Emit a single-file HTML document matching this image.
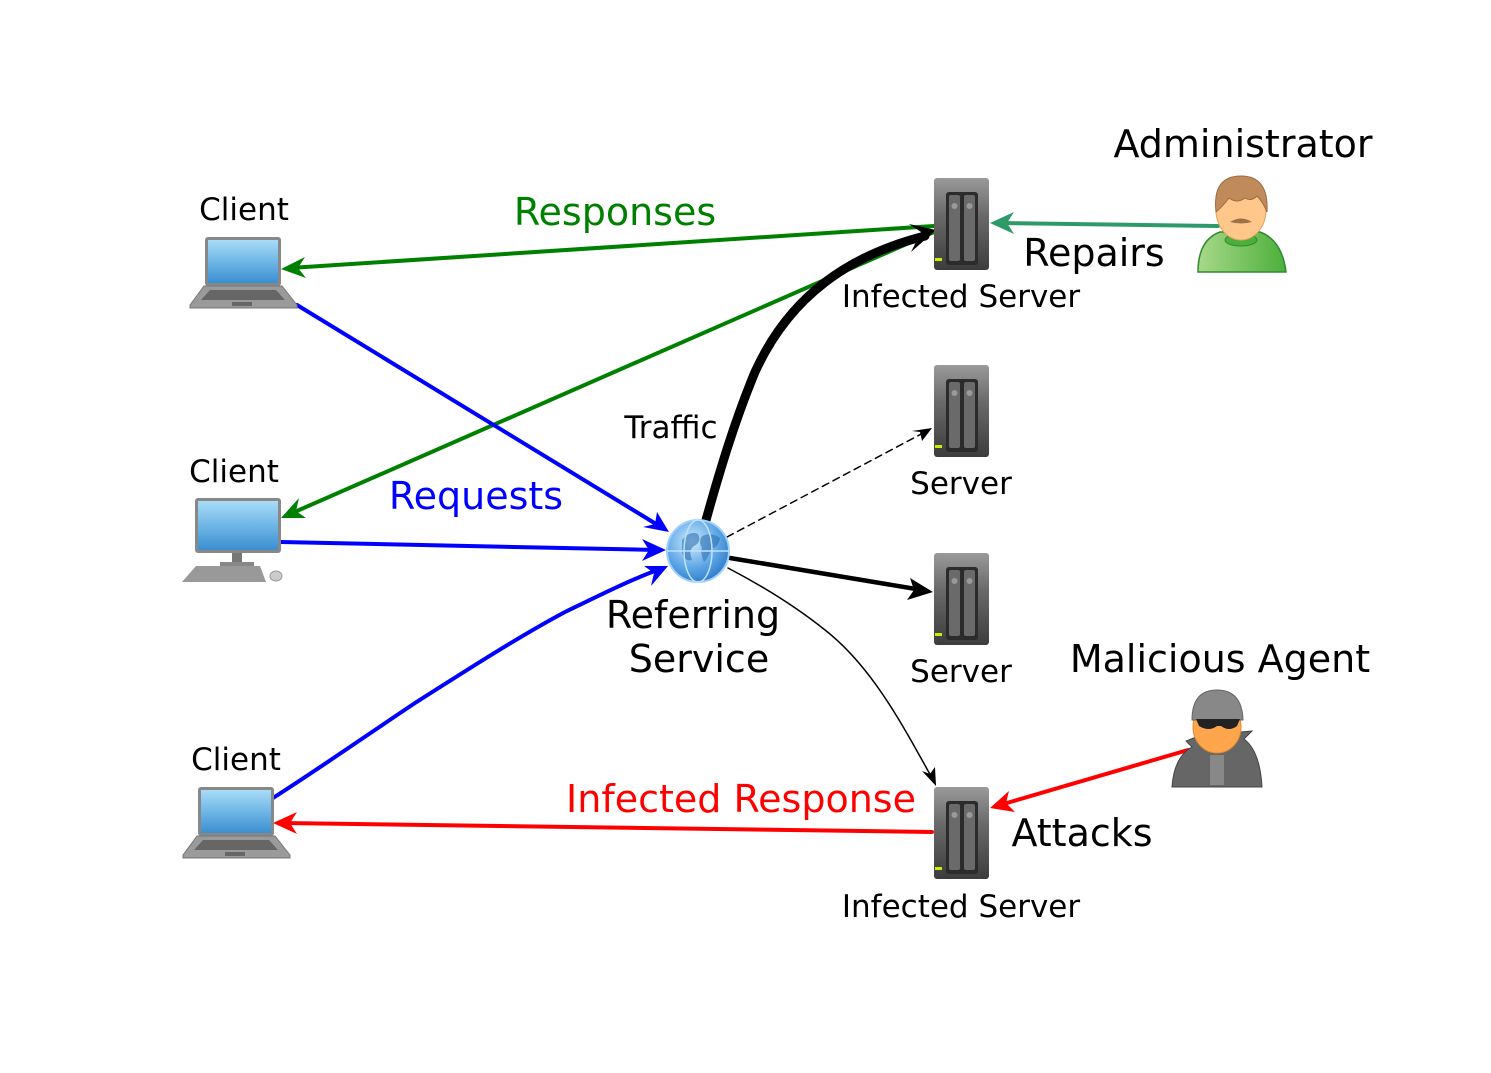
<!DOCTYPE html>
<html><head><meta charset="utf-8"><style>
html,body{margin:0;padding:0;background:#fff}
svg{display:block}
text{font-family:"DejaVu Sans","Liberation Sans",sans-serif}
</style></head><body>
<svg width="1491" height="1073" viewBox="0 0 1491 1073" xmlns="http://www.w3.org/2000/svg">
<defs>
<linearGradient id="scr" x1="0" y1="0" x2="0" y2="1"><stop offset="0" stop-color="#a9dcf7"/><stop offset="0.5" stop-color="#6fb6e6"/><stop offset="1" stop-color="#3a8fd0"/></linearGradient>
<linearGradient id="srv" x1="0" y1="0" x2="0" y2="1"><stop offset="0" stop-color="#9a9a9a"/><stop offset="0.4" stop-color="#6a6a6a"/><stop offset="1" stop-color="#3c3c3c"/></linearGradient>
<linearGradient id="gr" x1="0" y1="0" x2="1" y2="0"><stop offset="0" stop-color="#a8d88a"/><stop offset="1" stop-color="#4caf3a"/></linearGradient>
<radialGradient id="glb" cx="0.4" cy="0.35" r="0.7"><stop offset="0" stop-color="#cfeaff"/><stop offset="0.6" stop-color="#5fa8e6"/><stop offset="1" stop-color="#2c78c8"/></radialGradient>
<g id="server">
<rect x="0" y="0" width="55" height="92" rx="3" fill="url(#srv)"/>
<rect x="12" y="14" width="32" height="73" rx="3" fill="#2b2b2b"/>
<rect x="15" y="17" width="11" height="66" rx="2" fill="#6a6a6a"/>
<rect x="30" y="17" width="11" height="66" rx="2" fill="#6a6a6a"/>
<circle cx="20.5" cy="28" r="3" fill="#999"/><circle cx="35.5" cy="28" r="3" fill="#999"/>
<rect x="1" y="80" width="7" height="3" fill="#c8f000"/>
</g>
<g id="laptop">
<rect x="15" y="0" width="76" height="49" rx="3" fill="#888"/>
<rect x="18" y="3" width="70" height="43" fill="url(#scr)"/>
<path d="M14 49 H92 L107 68 V71 H0 V68 Z" fill="#9a9a9a" stroke="#777"/>
<path d="M20 53 H86 L95 63 H11 Z" fill="#666"/>
<rect x="42" y="65" width="20" height="4" fill="#666"/>
</g>
</defs>

<g fill="none" stroke-linecap="round">
<line x1="934" y1="226" x2="290" y2="268" stroke="#008000" stroke-width="4"/>
<line x1="934" y1="232" x2="290" y2="514" stroke="#008000" stroke-width="4"/>
<line x1="1218" y1="226" x2="1000" y2="223" stroke="#2e9a6a" stroke-width="4"/>
<line x1="297" y1="305" x2="661" y2="527" stroke="#0000ff" stroke-width="4"/>
<line x1="281" y1="542" x2="657" y2="550" stroke="#0000ff" stroke-width="4"/>
<path d="M273 798 C320 768 370 733 415 703 C470 668 520 636 565 612 C600 595 630 580 660 569" stroke="#0000ff" stroke-width="4"/>
<path d="M706 520 C720 470 735 420 755 372 C790 295 850 255 925 236" stroke="#000" stroke-width="9"/>
<line x1="727" y1="537" x2="925" y2="432" stroke="#000" stroke-width="1.5" stroke-dasharray="7,5"/>
<line x1="730" y1="558" x2="922" y2="590" stroke="#000" stroke-width="4.5"/>
<path d="M728 568 C770 590 800 610 825 630 C870 665 900 720 932 778" stroke="#000" stroke-width="1.5"/>
<line x1="932" y1="832" x2="283" y2="823" stroke="#ff0000" stroke-width="4"/>
<line x1="1188" y1="750" x2="1000" y2="805" stroke="#ff0000" stroke-width="4"/>
</g>
<g>
<path d="M281 269 l24 -12 l-7 11 l8 10 Z" fill="#008000"/>
<path d="M281 518 l18 -20 l-3 13 l10 7 Z" fill="#008000"/>
<path d="M990 223 l24 -11 l-7 11 l7 11 Z" fill="#2e9a6a"/>
<path d="M669 532 l-26 -5 l12 -3 l2 -12 Z" fill="#0000ff"/>
<path d="M666 550 l-24 11 l7 -11 l-7 -11 Z" fill="#0000ff"/>
<path d="M668 566 l-17 20 l3 -13 l-10 -7 Z" fill="#0000ff"/>
<path d="M936 230 l-27 -6 l12 8 l-10 20 Z" fill="#000"/>
<path d="M932 428 l-20 3 l8 1 l2 9 Z" fill="#000"/>
<path d="M933 592 l-26 8 l7 -10 l-4 -12 Z" fill="#000"/>
<path d="M936 786 l-14 -15 l8 3 l5 -7 Z" fill="#000"/>
<path d="M273 823 l24 -11 l-7 11 l7 11 Z" fill="#ff0000"/>
<path d="M990 808 l19 -17 l-3 12 l9 9 Z" fill="#ff0000"/>
</g>

<use href="#laptop" x="190" y="237"/>
<use href="#laptop" x="183" y="787"/>
<g>
<rect x="195" y="498" width="86" height="55" rx="3" fill="#888"/>
<rect x="198" y="501" width="80" height="49" fill="url(#scr)"/>
<rect x="232" y="553" width="10" height="10" fill="#777"/>
<rect x="220" y="562" width="34" height="4" fill="#888"/>
<path d="M196 566 H260 L266 582 H182 Z" fill="#999"/>
<ellipse cx="276" cy="576" rx="6" ry="5" fill="#ccc" stroke="#999"/>
</g>
<use href="#server" x="934" y="178"/>
<use href="#server" x="934" y="365"/>
<use href="#server" x="934" y="553"/>
<use href="#server" x="934" y="787"/>
<g>
<circle cx="698" cy="551" r="31" fill="url(#glb)" stroke="#9fd0ff" stroke-width="2"/>
<path d="M682 540 q8 -10 16 -6 q4 8 -4 12 q-6 4 -2 14 q-8 2 -10 -8 z M702 536 q10 -4 18 2 q-2 10 -8 10 q-4 10 -8 14 q-4 -10 -2 -14 q-4 -6 0 -12z" fill="#2e6fb0" opacity="0.6"/>
<ellipse cx="698" cy="551" rx="14" ry="31" fill="none" stroke="#bfe2ff" stroke-width="1.5"/>
<line x1="667" y1="551" x2="729" y2="551" stroke="#bfe2ff" stroke-width="1.5"/>
</g>
<g>
<path d="M1198 272 q0 -32 22 -40 h40 q22 8 26 40 z" fill="url(#gr)" stroke="#2e8b2e" stroke-width="1.5"/>
<ellipse cx="1241" cy="240" rx="16" ry="6" fill="#4caf3a" stroke="#2e8b2e"/>
<ellipse cx="1241" cy="210" rx="25" ry="30" fill="#ffc88a" stroke="#e3a060"/>
<path d="M1216 212 q-4 -36 25 -36 q28 0 26 36 q-4 -10 -10 -16 q-6 6 -12 2 q-8 6 -16 0 q-6 8 -13 14 z" fill="#c08a5a" stroke="#9a6a40"/>
<path d="M1230 222 q11 -7 22 0 q-11 3 -22 0z" fill="#a0704a"/>
</g>
<g>
<path d="M1172 787 q2 -30 20 -40 l-6 -6 l20 -8 h24 l22 -2 l-8 8 q16 12 18 48 z" fill="#666" stroke="#444"/>
<rect x="1210" y="755" width="14" height="30" fill="#888"/>
<ellipse cx="1217" cy="727" rx="24" ry="26" fill="#ffa64d" stroke="#e08a30"/>
<path d="M1192 720 q0 -30 25 -30 q25 0 26 30 z" fill="#888" stroke="#666"/>
<path d="M1196 719 h44 l-3 7 q-8 6 -16 0 h-4 q-8 6 -18 0 z" fill="#222"/>
</g>

<g font-size="31" fill="#000" text-anchor="middle">
<text x="244" y="220">Client</text>
<text x="234" y="482">Client</text>
<text x="236" y="770">Client</text>
<text x="961" y="307">Infected Server</text>
<text x="961" y="494">Server</text>
<text x="961" y="682">Server</text>
<text x="961" y="917">Infected Server</text>
<text x="671" y="438">Traffic</text>
</g>
<g font-size="38" text-anchor="middle">
<text x="1243" y="157" fill="#000">Administrator</text>
<text x="1220" y="672" fill="#000">Malicious Agent</text>
<text x="1094" y="266" fill="#000">Repairs</text>
<text x="1082" y="846" fill="#000">Attacks</text>
<text x="693" y="628" fill="#000">Referring</text>
<text x="699" y="672" fill="#000">Service</text>
<text x="615" y="225" fill="#008000">Responses</text>
<text x="476" y="509" fill="#0000ff">Requests</text>
<text x="741" y="812" fill="#ff0000">Infected Response</text>
</g>
</svg>
</body></html>
